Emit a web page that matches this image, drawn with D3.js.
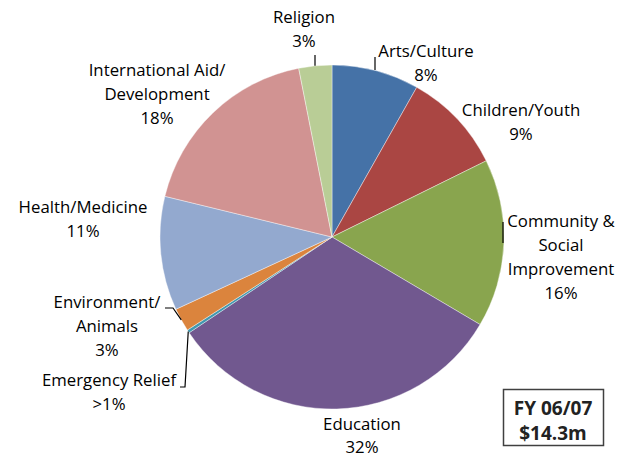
<!DOCTYPE html>
<html><head><meta charset="utf-8">
<script src="https://cdn.jsdelivr.net/npm/d3@7"></script>
<style>
html,body{margin:0;padding:0;background:#fff;}
svg text{font-family:"Open Sans",Lato,sans-serif;font-size:16.8px;fill:#000;}
</style></head>
<body><svg id="chart" width="631" height="459"></svg>
<script>
// ---- data ----
const categories = ["Arts/Culture","Children/Youth","Community & Social Improvement","Education","Emergency Relief","Environment/Animals","Health/Medicine","International Aid/Development","Religion"];
const values = [8.2, 9.5, 15.8, 32.1, 0.3, 2.2, 10.7, 18.1, 3.1];
const pctLabels = ["8%","9%","16%","32%",">1%","3%","11%","18%","3%"];
const labelLines = [["Arts/Culture"],["Children/Youth"],["Community &","Social","Improvement"],["Education"],["Emergency Relief"],["Environment/","Animals"],["Health/Medicine"],["International Aid/","Development"],["Religion"]];
const colors = ["#4572A7","#AA4643","#89A54E","#71588F","#4198AF","#DB843D","#93A9CF","#D19392","#B9CD96"];
const boxLines = ["FY 06/07","$14.3m"];

// ---- layout ----
const cx = 332, cy = 237, R = 172, lineH = 24;
// first-line baseline positions of each label
const labelPos = [[426,57],[521,116],[561,227],[362,430],[109,386],[107,308],[83,213],[157,76],[304,23]];
// leader lines
const leaders = [
  [[375,57],[375,70]],
  null,
  [[503,222],[503,243]],
  null,
  [[180,387],[185,387],"edge"],
  [[165,308],[173,308],"edge"],
  null,
  null,
  [[315,55],[315,"edge"]]
];

const svg = d3.select("#chart");
const g = svg.append("g").attr("transform",`translate(${cx},${cy})`);
const pie = d3.pie().sort(null).value(d=>d)(values);
const arc = d3.arc().innerRadius(0).outerRadius(R);

g.selectAll("path.slice").data(pie).join("path")
  .attr("class","slice")
  .attr("d",arc)
  .attr("fill",(d,i)=>colors[i])
  .attr("stroke","#fff").attr("stroke-width",0.4);

function edgePoint(d){
  const a = (d.startAngle+d.endAngle)/2;
  return [cx + R*Math.sin(a), cy - R*Math.cos(a)];
}

// leader lines
leaders.forEach((L,i)=>{
  if(!L) return;
  let pts;
  if(i===8){
    const e = edgePoint(pie[i]);
    pts = [[L[0][0],L[0][1]],[L[0][0], e[1]]];
  } else {
    pts = L.map(p => p==="edge" ? edgePoint(pie[i]) : p);
  }
  svg.append("path").attr("d", d3.line()(pts))
    .attr("fill","none").attr("stroke","#000").attr("stroke-width",1.2);
});

// labels
labelLines.forEach((lines,i)=>{
  const t = svg.append("text").attr("text-anchor","middle");
  const all = lines.concat([pctLabels[i]]);
  const lh = i===3 ? 23 : lineH;
  all.forEach((s,k)=>{
    t.append("tspan").attr("x",labelPos[i][0]).attr("y",labelPos[i][1]+k*lh).text(s);
  });
});

// FY box
svg.append("rect").attr("x",503.5).attr("y",389.5).attr("width",100).attr("height",56)
  .attr("fill","#fff").attr("stroke","#404040").attr("stroke-width",1.5);
boxLines.forEach((s,k)=>{
  svg.append("text").attr("x",553).attr("y",415+k*25).attr("text-anchor","middle")
    .style("font-weight","bold").style("font-size","19px").style("fill","#222").text(s);
});
</script></body></html>
